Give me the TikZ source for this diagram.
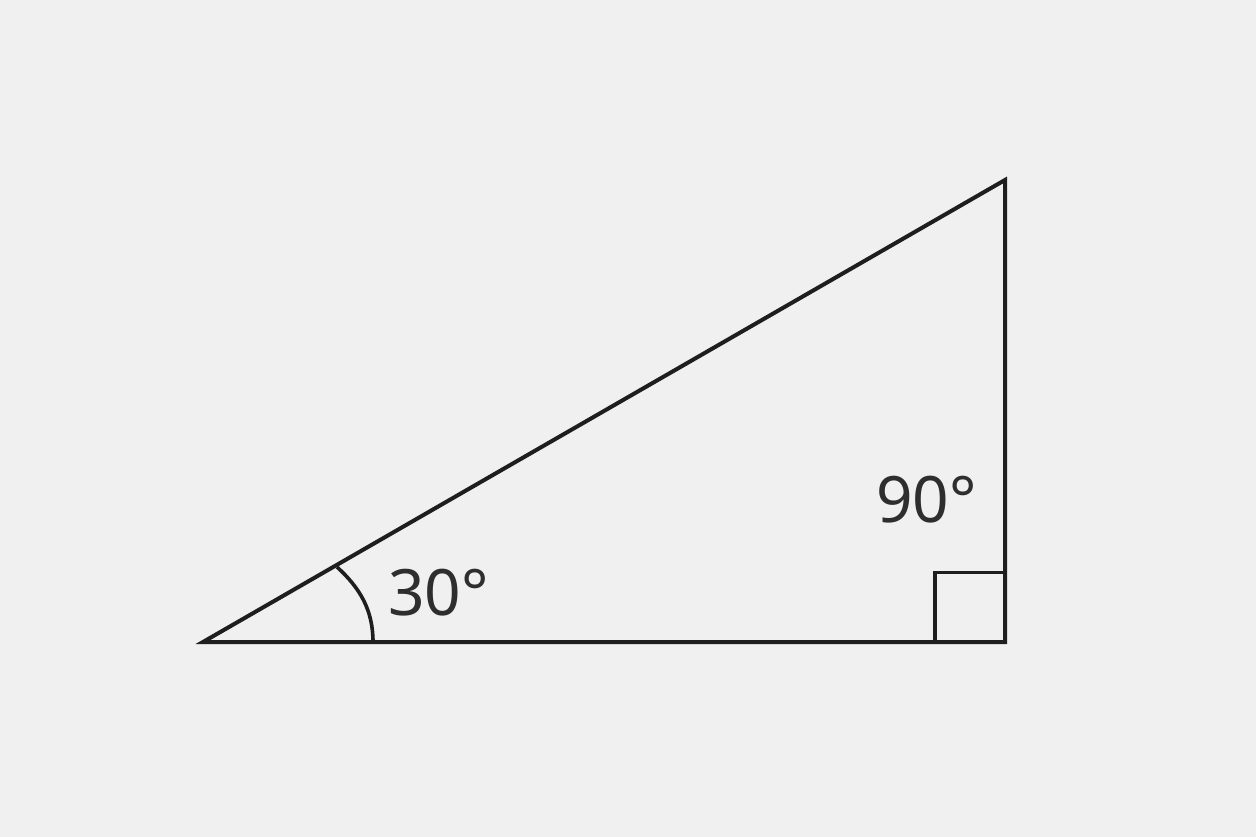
\documentclass[tikz,border=0pt]{standalone}
\usepackage{fontspec}
\setmainfont{Noto Sans}
\definecolor{bg}{HTML}{F0F0F0}
\definecolor{ink}{HTML}{1E1E1E}
\definecolor{txt}{HTML}{2E2E2E}
\begin{document}
\begin{tikzpicture}[x=1pt,y=-1pt,
  edge/.style={draw=ink,line width=4pt,line join=miter},
  lbl/.style={inner sep=0pt,anchor=base west,text=txt,font=\fontsize{64}{70}\selectfont}]
\fill[bg] (0,0) rectangle (1256,837);
\useasboundingbox (0,0) rectangle (1256,837);
\coordinate (A) at (203,642);
\coordinate (B) at (1005,642);
\coordinate (C) at (1005,180);
\draw[edge] (A) -- (B) -- (C) -- cycle;
\coordinate (s1) at (935,642);
\coordinate (s2) at (935,572.5);
\coordinate (s3) at (1005,572.5);
\draw[edge,line width=3.6pt] (s1) -- (s2) -- (s3);
\coordinate (a1) at (373,642);
\coordinate (a2) at (337,567);
\draw[edge,line width=3.6pt] (a1) .. controls (373,610) and (360,588) .. (a2);
\node[lbl] (t30) at (388,615) {30°};
\node[lbl] (t90) at (876,522) {90°};
\end{tikzpicture}
\end{document}
